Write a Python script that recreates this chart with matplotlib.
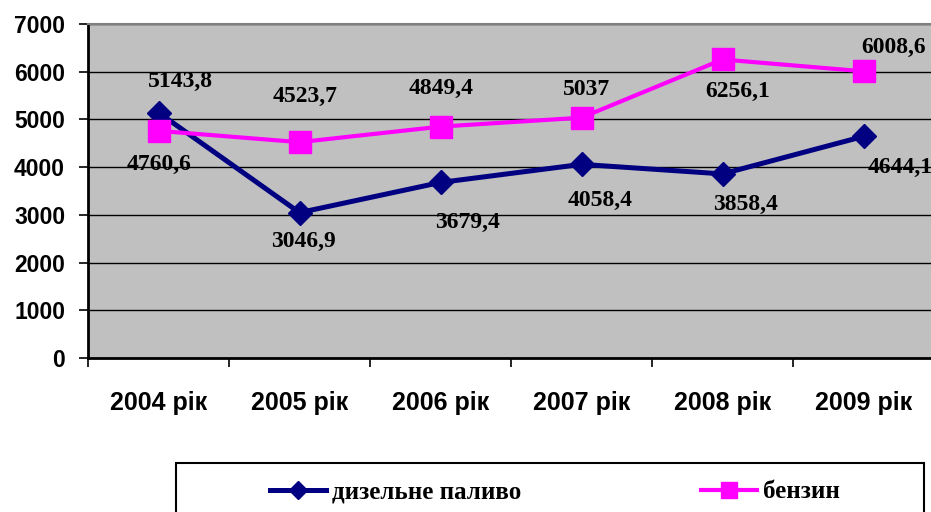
import matplotlib
matplotlib.use('Agg')
import matplotlib.pyplot as plt
from matplotlib.patches import Rectangle

# chart data
years = ['2004 рік', '2005 рік', '2006 рік', '2007 рік', '2008 рік', '2009 рік']
diesel = [5143.8, 3046.9, 3679.4, 4058.4, 3858.4, 4644.1]
petrol = [4760.6, 4523.7, 4849.4, 5037.0, 6256.1, 6008.6]
diesel_labels = ['5143,8', '3046,9', '3679,4', '4058,4', '3858,4', '4644,1']
petrol_labels = ['4760,6', '4523,7', '4849,4', '5037', '6256,1', '6008,6']

# label offsets in pixels (dx, dy downwards) - copied from the original layout
diesel_off = [(22, -31), (4, 29), (27, 40), (19, 36), (23, 31), (37, 31)]
petrol_off = [(1, 34), (6, -46), (1, -38), (5, -28), (15, 32), (30, -24)]

W, H = 931, 512
fig = plt.figure(figsize=(W / 100, H / 100), dpi=100)
ax = fig.add_axes([88 / W, 1 - 358 / H, (934 - 88) / W, (358 - 24) / H])
ax.set_facecolor('#C0C0C0')

x = [i + 0.5 for i in range(len(years))]
ax.plot(x, diesel, color='#000080', lw=3.6, marker='D', ms=12.5,
        label='дизельне паливо', zorder=4)
ax.plot(x, petrol, color='#FF00FF', lw=3.0, marker='s', ms=16,
        label='бензин', zorder=5)

lab_font = dict(family='Liberation Serif', weight='bold', size=17)
for xi, v, t, (dx, dy) in zip(x, diesel, diesel_labels, diesel_off):
    ax.annotate(t, (xi, v), xytext=(dx * 0.72, -dy * 0.72), textcoords='offset points',
                ha='center', va='center', zorder=6, annotation_clip=False, **lab_font)
for xi, v, t, (dx, dy) in zip(x, petrol, petrol_labels, petrol_off):
    ax.annotate(t, (xi, v), xytext=(dx * 0.72, -dy * 0.72), textcoords='offset points',
                ha='center', va='center', zorder=6, annotation_clip=False, **lab_font)

ax.set_xlim(0, 6)
ax.set_ylim(0, 7000)
ax.set_yticks(range(0, 7001, 1000))
ax.yaxis.grid(True, color='black', lw=1.0)
ax.set_axisbelow(True)

ax.set_xticks(range(0, 7))
ax.set_xticklabels([])
ax.set_xticks(x, minor=True)
ax.set_xticklabels(years, minor=True)
ax.tick_params(axis='x', which='major', direction='out', length=6.5, width=1.2, color='black')
ax.tick_params(axis='x', which='minor', length=0, pad=24)
ax.tick_params(axis='y', direction='out', length=6.5, width=1.2, pad=10)
for lbl in ax.get_xticklabels(minor=True):
    lbl.set_fontfamily('Liberation Sans')
    lbl.set_fontweight('bold')
    lbl.set_fontsize(18)
for lbl in ax.get_yticklabels():
    lbl.set_fontfamily('Liberation Sans')
    lbl.set_fontweight('bold')
    lbl.set_fontsize(16.5)

ax.spines['left'].set_color('black')
ax.spines['left'].set_linewidth(2)
ax.spines['bottom'].set_color('black')
ax.spines['bottom'].set_linewidth(2)
ax.spines['top'].set_color('#808080')
ax.spines['top'].set_linewidth(1.5)
ax.spines['right'].set_visible(False)

# legend box
fig.patches.append(Rectangle((176 / W, -0.05), (924 - 176) / W, (1 - 463 / H) + 0.05,
                             transform=fig.transFigure, fill=False, ec='black', lw=1.5))
leg = fig.legend(loc='center left', bbox_to_anchor=(270 / W, 1 - 492 / H), ncol=2,
                 frameon=False, handlelength=2.24, columnspacing=7.2, handletextpad=0.24,
                 borderpad=0, borderaxespad=0,
                 prop=dict(family='Liberation Serif', weight='bold', size=18))
for h in leg.legend_handles:
    h.set_markersize(h.get_markersize() * 0.75)

fig.savefig('out.png', dpi=100)
